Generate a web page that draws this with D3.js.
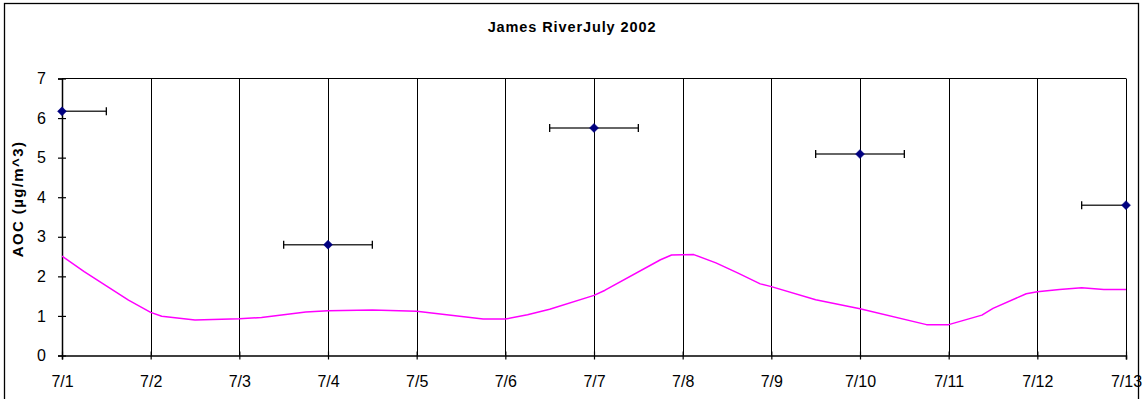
<!DOCTYPE html>
<html>
<head>
<meta charset="utf-8">
<script src="https://cdn.jsdelivr.net/npm/d3@7"></script>
<style>
  html, body { margin: 0; padding: 0; background: #fff; }
  svg { display: block; }
  text { font-family: "Liberation Sans", Arial, sans-serif; fill: #000; }
</style>
</head>
<body>
<svg id="chart" width="1146" height="399"></svg>
<script>
// Day labels along the x axis (day 0 = 7/1)
const dayLabels = ["7/1","7/2","7/3","7/4","7/5","7/6","7/7","7/8","7/9","7/10","7/11","7/12","7/13"];
const yTicks = [0, 1, 2, 3, 4, 5, 6, 7];

// Filter samples: day offset, AOC value, half-width of sampling window (days)
const sampleDays = [0, 3, 6, 9, 12];
const sampleAOC = [6.17, 2.80, 5.75, 5.09, 3.80];
const sampleHalfWidth = [0.5, 0.5, 0.5, 0.5, 0.5];

// Continuous trace: day offsets and values
const traceDays = [0.00, 0.25, 0.50, 0.75, 1.00, 1.125, 1.50, 2.00, 2.25, 2.75, 3.00, 3.50, 4.00,
                   4.75, 5.00, 5.25, 5.50, 6.00, 6.125, 6.75, 6.875, 7.125, 7.375, 7.625, 7.875,
                   8.00, 8.50, 9.00, 9.75, 10.00, 10.375, 10.50, 10.875, 11.00, 11.25, 11.50, 11.75, 12.00];
const traceAOC  = [2.51, 2.12, 1.76, 1.40, 1.09, 0.99, 0.90, 0.93, 0.96, 1.10, 1.13, 1.15, 1.12,
                   0.92, 0.92, 1.03, 1.17, 1.52, 1.65, 2.42, 2.54, 2.55, 2.34, 2.08, 1.81,
                   1.74, 1.41, 1.18, 0.78, 0.78, 1.02, 1.19, 1.56, 1.61, 1.67, 1.71, 1.67, 1.67];

const svg = d3.select("#chart");
const W = 1146, H = 399;
const plot = { left: 62, right: 1126, top: 78.5, bottom: 355.5 };

const x = d3.scaleLinear().domain([0, dayLabels.length - 1]).range([plot.left, plot.right]);
const y = d3.scaleLinear().domain([0, 7]).range([plot.bottom, plot.top]);

// Outer chart frame
svg.append("rect")
  .attr("x", 4.5).attr("y", 3.5)
  .attr("width", 1134).attr("height", H + 10)
  .attr("fill", "#fff").attr("stroke", "#000").attr("stroke-width", 1.3);

// Title
svg.append("text")
  .attr("x", 572).attr("y", 32)
  .attr("text-anchor", "middle")
  .attr("font-size", 14.5).attr("font-weight", "bold")
  .attr("letter-spacing", 0.9)
  .text("James RiverJuly 2002");

// Vertical day gridlines
svg.append("g").selectAll("line")
  .data(d3.range(1, dayLabels.length))
  .join("line")
  .attr("x1", d => Math.round(x(d)) + 0.5).attr("x2", d => Math.round(x(d)) + 0.5)
  .attr("y1", plot.top).attr("y2", plot.bottom)
  .attr("stroke", "#000").attr("stroke-width", 1);

// Top border of plot area
svg.append("line")
  .attr("x1", plot.left).attr("x2", plot.right)
  .attr("y1", plot.top).attr("y2", plot.top)
  .attr("stroke", "#000").attr("stroke-width", 1);

// Y axis
const yAxis = d3.axisLeft(y).tickValues(yTicks).tickFormat(d3.format("d")).tickSize(4).tickPadding(12);
const gy = svg.append("g").attr("transform", `translate(${plot.left},0)`).call(yAxis);
gy.select(".domain").attr("stroke", "#000").attr("stroke-width", 1.5);
gy.selectAll(".tick line").attr("x1", 4).attr("x2", -4).attr("stroke", "#000").attr("stroke-width", 1.2);
gy.selectAll(".tick text").attr("font-size", 16).attr("font-family", "Liberation Sans, Arial, sans-serif").attr("fill", "#000");

// X axis
const xAxis = d3.axisBottom(x).tickValues(d3.range(dayLabels.length)).tickFormat(i => dayLabels[i]).tickSize(4).tickPadding(16);
const gx = svg.append("g").attr("transform", `translate(0,${plot.bottom})`).call(xAxis);
gx.select(".domain").attr("stroke", "#000").attr("stroke-width", 1.5);
gx.selectAll(".tick line").attr("y1", -4).attr("y2", 4).attr("stroke", "#000").attr("stroke-width", 1.2);
gx.selectAll(".tick text").attr("font-size", 16).attr("font-family", "Liberation Sans, Arial, sans-serif").attr("fill", "#000");

// Y axis title
svg.append("text")
  .attr("transform", `translate(23,199) rotate(-90)`)
  .attr("text-anchor", "middle")
  .attr("font-size", 15).attr("font-weight", "bold")
  .attr("letter-spacing", 1.4)
  .text("AOC (µg/m^3)");

// Clip for content inside the plot area
svg.append("clipPath").attr("id", "plotClip")
  .append("rect")
  .attr("x", plot.left).attr("y", plot.top - 10)
  .attr("width", plot.right - plot.left).attr("height", plot.bottom - plot.top + 10);

// Trace line
const line = d3.line()
  .x((d, i) => x(traceDays[i]))
  .y((d, i) => y(traceAOC[i]));
svg.append("path")
  .datum(traceAOC)
  .attr("d", line)
  .attr("fill", "none")
  .attr("stroke", "#ff00ff")
  .attr("stroke-width", 1.5)
  .attr("stroke-linejoin", "round")
  .attr("clip-path", "url(#plotClip)");

// Horizontal error bars for sampling windows
const samples = sampleDays.map((d, i) => ({ d, v: sampleAOC[i], h: sampleHalfWidth[i] }));
const eb = svg.append("g").attr("clip-path", "url(#plotClip)");
eb.selectAll("line.bar")
  .data(samples).join("line").attr("class", "bar")
  .attr("x1", s => x(s.d - s.h)).attr("x2", s => x(s.d + s.h))
  .attr("y1", s => y(s.v)).attr("y2", s => y(s.v))
  .attr("stroke", "#333").attr("stroke-width", 1.5);
["lo", "hi"].forEach(side => {
  eb.selectAll("line.cap-" + side)
    .data(samples).join("line").attr("class", "cap-" + side)
    .attr("x1", s => x(side === "lo" ? s.d - s.h : s.d + s.h))
    .attr("x2", s => x(side === "lo" ? s.d - s.h : s.d + s.h))
    .attr("y1", s => y(s.v) - 4).attr("y2", s => y(s.v) + 4)
    .attr("stroke", "#000").attr("stroke-width", 1.3);
});

// Sample markers (diamonds)
svg.append("g").selectAll("path")
  .data(samples).join("path")
  .attr("transform", s => `translate(${x(s.d)},${y(s.v)})`)
  .attr("d", "M0,-4.5L4.5,0L0,4.5L-4.5,0Z")
  .attr("fill", "#000080").attr("stroke", "#000080").attr("stroke-width", 0.5);
</script>
</body>
</html>
